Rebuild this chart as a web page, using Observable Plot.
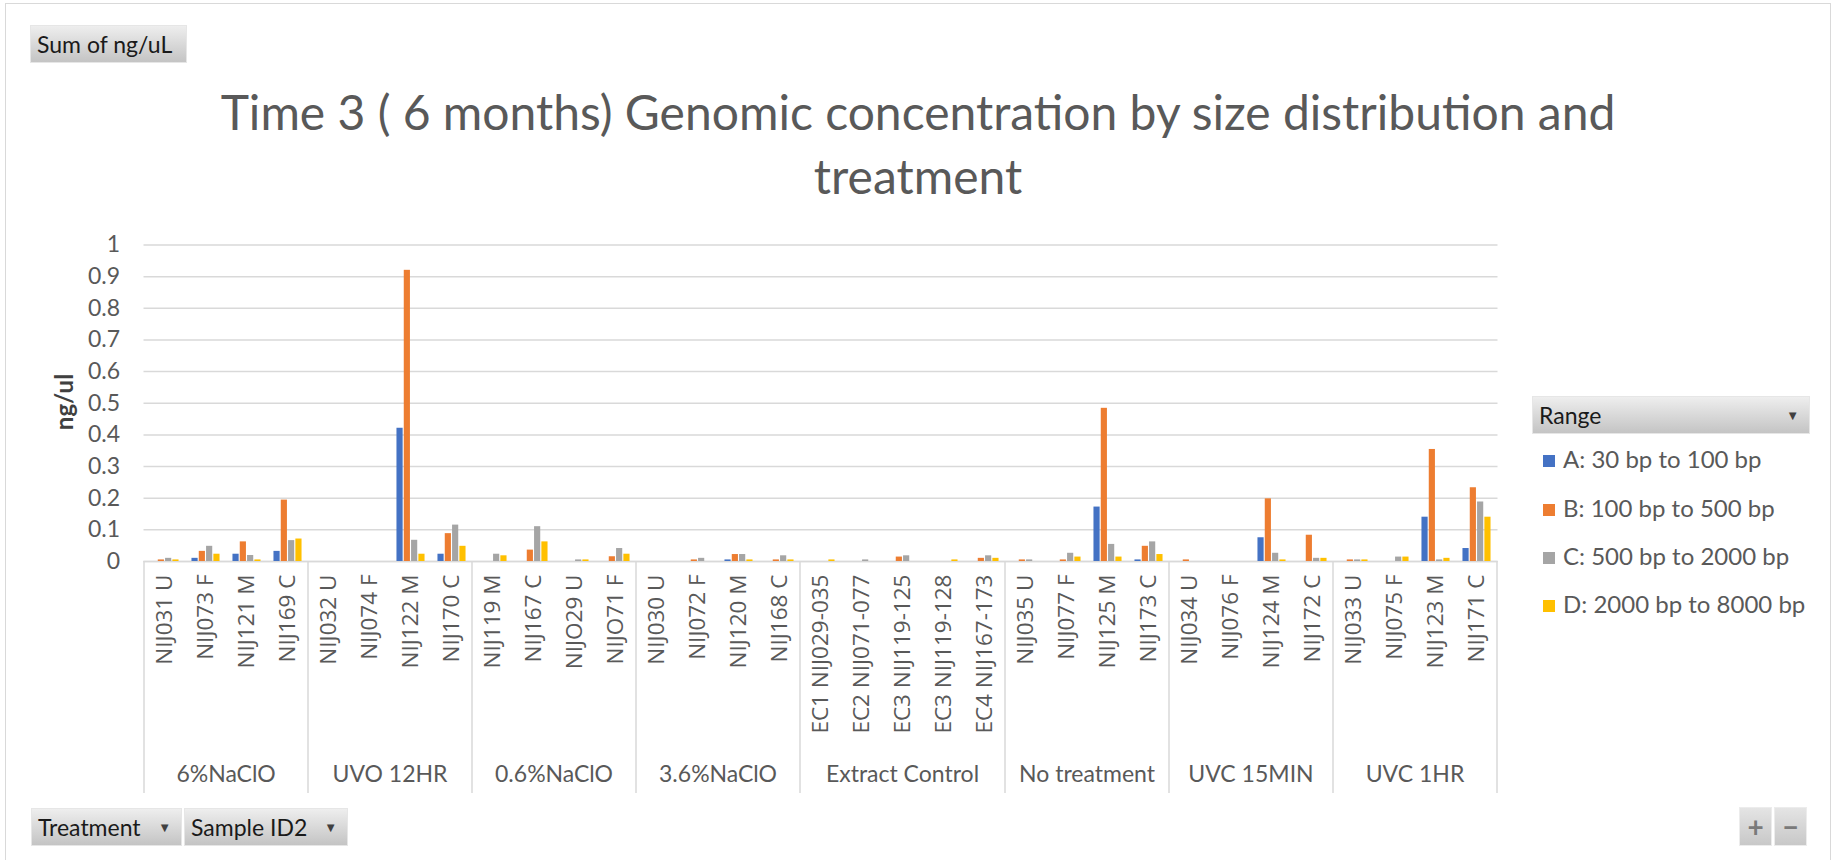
<!DOCTYPE html>
<html>
<head>
<meta charset="utf-8">
<script src="https://cdn.jsdelivr.net/npm/d3@7"></script>
<script src="https://cdn.jsdelivr.net/npm/@observablehq/plot@0.6"></script>
<style>
  body { margin: 0; background: #fff; }
  #wrap { position: relative; width: 1836px; height: 860px; overflow: hidden; font-family: Lato, "Open Sans", sans-serif; }
  #frame { position: absolute; left: 5px; top: 3px; width: 1826px; height: 900px; border: 1.5px solid #d9d9d9; box-sizing: border-box; }
  #chart { position: absolute; left: 0; top: 0; }
  .btn { position: absolute; box-sizing: border-box; background: linear-gradient(#eeeeee, #c4c4c4); border: 1px solid #e6e6e6; color: #1a1a1a; font-size: 23px; line-height: 36px; white-space: nowrap; }
  .arrow { position: absolute; right: 10px; top: 0; font-size: 13px; color: #404040; }
  #title { position: absolute; left: 0; top: 80px; width: 1836px; text-align: center; font-size: 48px; line-height: 64px; color: #595959; }
  #ylabel { position: absolute; left: 63px; top: 402px; transform: translate(-50%, -50%) rotate(-90deg); font-size: 24px; font-weight: bold; color: #404040; white-space: nowrap; }
  .leg { position: absolute; left: 1543px; font-size: 24px; color: #595959; white-space: nowrap; line-height: 30px; }
  .leg span.sw { display: inline-block; width: 12px; height: 12px; margin-right: 8px; vertical-align: 1px; }
  .pm { position: absolute; top: 807px; width: 33px; height: 39px; box-sizing: border-box; background: linear-gradient(#e4e4e4, #c8c8c8); border: 1px solid #ececec; color: #7a7a7a; font-size: 28px; font-weight: bold; text-align: center; line-height: 37px; }
</style>
</head>
<body>
<div id="wrap">
  <div id="frame"></div>
  <div id="chart"></div>
  <div class="btn" style="left:30px; top:25px; width:157px; height:38px; padding-left:6px;">Sum of ng/uL</div>
  <div id="title">Time 3 ( 6 months) Genomic concentration by size distribution and<br>treatment</div>
  <div id="ylabel">ng/ul</div>
  <div class="btn" style="left:1532px; top:396px; width:278px; height:38px; padding-left:6px;">Range<span class="arrow">&#9660;</span></div>
  <div id="legend"></div>
  <div class="btn" style="left:31px; top:808px; width:151px; height:38px; padding-left:6px;">Treatment<span class="arrow">&#9660;</span></div>
  <div class="btn" style="left:184px; top:808px; width:164px; height:38px; padding-left:6px;">Sample ID2<span class="arrow">&#9660;</span></div>
  <div class="pm" style="left:1739px;">+</div>
  <div class="pm" style="left:1774px;">&#8722;</div>
</div>
<script>
// ---- Data ----
const treatments = ["6%NaClO", "UVO 12HR", "0.6%NaClO", "3.6%NaClO", "Extract Control", "No treatment", "UVC 15MIN", "UVC 1HR"];
const groupSizes = [4, 4, 4, 4, 5, 4, 4, 4];
const sampleIds = [
  "NIJ031 U", "NIJ073 F", "NIJ121 M", "NIJ169 C",
  "NIJ032 U", "NIJ074 F", "NIJ122 M", "NIJ170 C",
  "NIJ119 M", "NIJ167 C", "NIJO29 U", "NIJO71 F",
  "NIJ030 U", "NIJ072 F", "NIJ120 M", "NIJ168 C",
  "EC1 NIJ029-035", "EC2 NIJ071-077", "EC3 NIJ119-125", "EC3 NIJ119-128", "EC4 NIJ167-173",
  "NIJ035 U", "NIJ077 F", "NIJ125 M", "NIJ173 C",
  "NIJ034 U", "NIJ076 F", "NIJ124 M", "NIJ172 C",
  "NIJ033 U", "NIJ075 F", "NIJ123 M", "NIJ171 C"
];
const rangeNames = ["A: 30 bp to 100 bp", "B: 100 bp to 500 bp", "C: 500 bp to 2000 bp", "D: 2000 bp to 8000 bp"];
const rangeColors = ["#4472C4", "#ED7D31", "#A5A5A5", "#FFC000"];
const rangeA = [0, 0.010, 0.023, 0.032,  0, 0, 0.421, 0.023,  0, 0, 0, 0,  0, 0, 0.005, 0,  0, 0, 0, 0, 0,  0, 0, 0.172, 0.005,  0, 0, 0.075, 0,  0, 0, 0.140, 0.041];
const rangeB = [0.005, 0.032, 0.062, 0.194,  0, 0, 0.920, 0.088,  0, 0.036, 0, 0.015,  0, 0.005, 0.022, 0.005,  0, 0, 0.014, 0, 0.010,  0.005, 0.005, 0.484, 0.048,  0.005, 0, 0.198, 0.083,  0.005, 0, 0.354, 0.233];
const rangeC = [0.010, 0.048, 0.019, 0.066,  0, 0, 0.067, 0.115,  0.023, 0.110, 0.005, 0.041,  0, 0.010, 0.022, 0.018,  0, 0.005, 0.018, 0, 0.018,  0.005, 0.026, 0.054, 0.062,  0, 0, 0.026, 0.010,  0.005, 0.014, 0.005, 0.188];
const rangeD = [0.005, 0.023, 0.005, 0.071,  0, 0, 0.023, 0.048,  0.018, 0.062, 0.005, 0.023,  0, 0, 0.005, 0.005,  0.005, 0, 0, 0.005, 0.010,  0, 0.014, 0.014, 0.022,  0, 0, 0.005, 0.010,  0.005, 0.014, 0.010, 0.140];
const yTicks = [0, 0.1, 0.2, 0.3, 0.4, 0.5, 0.6, 0.7, 0.8, 0.9, 1];

const seriesValues = [rangeA, rangeB, rangeC, rangeD];
const rows = [];
seriesValues.forEach((vals, s) => vals.forEach((v, i) => rows.push({sample: sampleIds[i], range: rangeNames[s], s, value: v})));

// ---- Layout ----
const W = 1836, H = 860, ML = 143.5, MR = 338.5, MT = 244.5, MB = 299;
const band = (W - ML - MR) / sampleIds.length;
const barW = 6.2, step = 7.3;
const off = (band - (3 * step + barW)) / 2;

const barMarks = rangeNames.map((r, s) => Plot.barY(rows.filter(d => d.s === s && d.value > 0), {
  x: "sample", y: "value", fill: rangeColors[s],
  insetLeft: off + s * step,
  insetRight: band - (off + s * step + barW)
}));

const chart = Plot.plot({
  width: W, height: H,
  marginLeft: ML, marginRight: MR, marginTop: MT, marginBottom: MB,
  style: {fontFamily: "Lato, sans-serif", background: "transparent", overflow: "visible"},
  x: {type: "band", domain: sampleIds, padding: 0},
  y: {domain: [0, 1]},
  marks: [
    Plot.gridY(yTicks, {stroke: "#d9d9d9", strokeOpacity: 1, strokeWidth: 1.5}),
    Plot.ruleY([0], {stroke: "#d9d9d9", strokeWidth: 1.5}),
    Plot.axisY(yTicks, {tickSize: 0, tickPadding: 24, tickFormat: d => String(d), fontSize: 23, color: "#595959", label: null}),
    Plot.axisX({tickRotate: -90, tickSize: 0, tickPadding: 13, fontSize: 22.5, fontFamily: "Open Sans, sans-serif", color: "#595959", label: null}),
    ...barMarks
  ]
});
document.getElementById("chart").appendChild(chart);

// ---- Group separators and treatment labels (positioned with Plot's own scales) ----
const xs = chart.scale("x"), ys = chart.scale("y");
const y0 = ys.apply(0);
const svg = d3.select(chart);
const g = svg.append("g");
let idx = 0;
const bounds = [];
treatments.forEach((t, k) => {
  const first = sampleIds[idx];
  const last = sampleIds[idx + groupSizes[k] - 1];
  const x1 = xs.apply(first), x2 = xs.apply(last) + xs.bandwidth;
  bounds.push(x1);
  if (k === treatments.length - 1) bounds.push(x2);
  g.append("text").attr("x", (x1 + x2) / 2).attr("y", y0 + 213).attr("dy", "0.35em")
    .attr("text-anchor", "middle").attr("font-size", 23).attr("fill", "#595959").text(t);
  idx += groupSizes[k];
});
bounds.forEach(x => g.append("line").attr("x1", x).attr("x2", x).attr("y1", y0).attr("y2", y0 + 232)
  .attr("stroke", "#d9d9d9").attr("stroke-width", 1.5));

// ---- Legend ----
const legY = [459, 508, 556, 604];
const leg = document.getElementById("legend");
rangeNames.forEach((r, s) => {
  const d = document.createElement("div");
  d.className = "leg";
  d.style.top = (legY[s] - 15) + "px";
  d.innerHTML = `<span class="sw" style="background:${rangeColors[s]}"></span>${r}`;
  leg.appendChild(d);
});
</script>
</body>
</html>
